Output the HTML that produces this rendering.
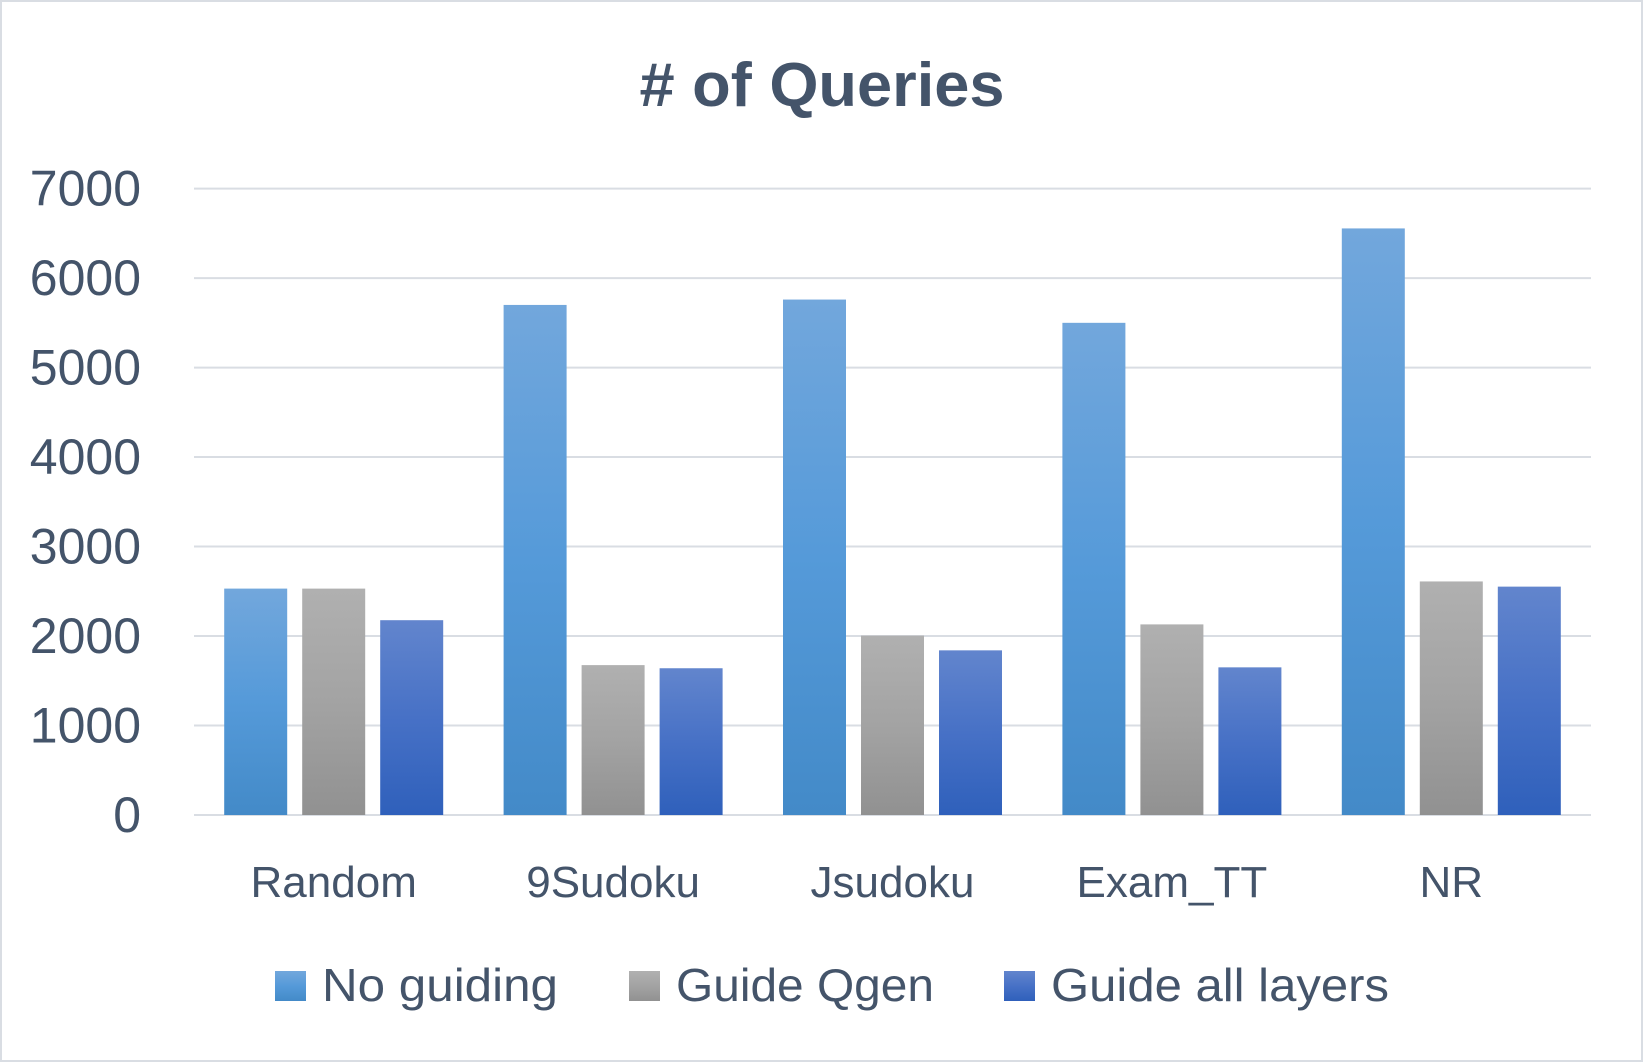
<!DOCTYPE html>
<html><head><meta charset="utf-8"><style>
html,body{margin:0;padding:0;background:#fff;}
svg{display:block;font-family:"Liberation Sans",sans-serif;}
</style></head><body>
<svg id="chart" width="1643" height="1062" viewBox="0 0 1643 1062">
<defs>
<linearGradient id="g0" x1="0" y1="0" x2="0" y2="1"><stop offset="0" stop-color="#72a7dc"/><stop offset="0.5" stop-color="#559ad9"/><stop offset="1" stop-color="#438ac8"/></linearGradient>
<linearGradient id="g1" x1="0" y1="0" x2="0" y2="1"><stop offset="0" stop-color="#b0b0b0"/><stop offset="0.5" stop-color="#a3a3a3"/><stop offset="1" stop-color="#919191"/></linearGradient>
<linearGradient id="g2" x1="0" y1="0" x2="0" y2="1"><stop offset="0" stop-color="#6285cd"/><stop offset="0.5" stop-color="#4771c6"/><stop offset="1" stop-color="#2f60bb"/></linearGradient>
</defs>
<rect x="1" y="1" width="1641" height="1060" fill="#fff" stroke="#d9dde3" stroke-width="2"/>
<text x="822" y="106" text-anchor="middle" font-size="62" font-weight="bold" fill="#44546a" textLength="365" lengthAdjust="spacingAndGlyphs"># of Queries</text>
<g id="grid"></g>
<g id="bars"></g>
<g id="labels"></g>
<g id="legend"></g>
</svg>
<script>
const categories = ["Random","9Sudoku","Jsudoku","Exam_TT","NR"];
const seriesNames = ["No guiding","Guide Qgen","Guide all layers"];
const noGuiding = [2530,5700,5760,5500,6555];
const guideQgen = [2530,1675,2005,2130,2610];
const guideAll = [2177,1640,1840,1650,2552];
const yTicks = [0,1000,2000,3000,4000,5000,6000,7000];
const series = [noGuiding, guideQgen, guideAll];
const NS="http://www.w3.org/2000/svg";
const X0=194, X1=1591, Y0=815, Y7=188.6, YMAX=7000;
const y = v => Y0 - (v/YMAX)*(Y0-Y7);
const catW = (X1-X0)/categories.length;
const barW=63, gap=15;
const xBar = (ci,si) => X0 + ci*catW + (catW-(3*barW+2*gap))/2 + si*(barW+gap);
function mk(tag, attrs, parent){const e=document.createElementNS(NS,tag);for(const k in attrs)e.setAttribute(k,attrs[k]);parent.appendChild(e);return e;}
const grid=document.getElementById('grid'), bars=document.getElementById('bars'), labels=document.getElementById('labels'), legend=document.getElementById('legend');
yTicks.forEach(t=>{
  const l=mk('line',{x1:X0,x2:X1,y1:y(t),y2:y(t),stroke:'#d9dde3','stroke-width':2},grid);
  
  
  const tx=mk('text',{x:141,y:y(t)+17,'text-anchor':'end','font-size':50,fill:'#44546a'},labels);
  tx.textContent=t;
  
  
});
const fills=['url(#g0)','url(#g1)','url(#g2)'];
categories.forEach((c,ci)=>{
  series.forEach((s,si)=>{
    const r=mk('rect',{x:xBar(ci,si),y:y(s[ci]),width:barW,height:Y0-y(s[ci]),fill:fills[si]},bars);
    
    
  });
  const tx=mk('text',{x:X0+ci*catW+catW/2,y:897,'text-anchor':'middle','font-size':44,fill:'#44546a'},labels);
  tx.textContent=c;
  
  
});
const legX=[275,629,1004], legTW=[236,258,338];
seriesNames.forEach((n,i)=>{
  const r=mk('rect',{x:legX[i],y:971,width:31,height:30,fill:fills[i]},legend);
  
  
  const tx=mk('text',{x:legX[i]+47,y:1001,'font-size':46,fill:'#44546a',textLength:legTW[i],lengthAdjust:'spacingAndGlyphs'},legend);
  tx.textContent=n;
  
  
});
</script>
</body></html>
